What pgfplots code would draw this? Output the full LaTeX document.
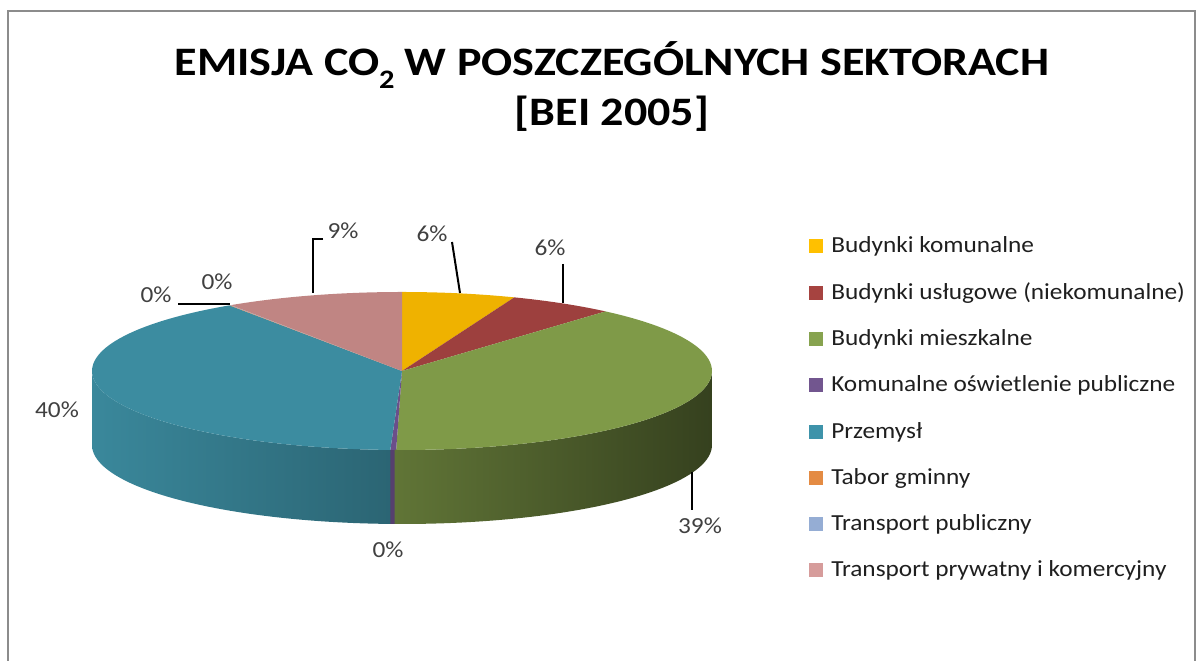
\documentclass[border=0pt]{standalone}
\usepackage{pgfplots}
\pgfplotsset{compat=1.18}
\usepackage{pgfplotstable}
\usepackage{fontspec}
\setmainfont{Carlito}
\newfontfamily\legfont[FakeStretch=1.1]{Carlito}
\newfontfamily\titlefont[FakeStretch=1.14]{Carlito}

\definecolor{cA}{HTML}{EFB200}
\definecolor{cB}{HTML}{9D403E}
\definecolor{cC}{HTML}{7F9A48}
\definecolor{cD}{HTML}{6B4F8A}
\definecolor{cE}{HTML}{3C8CA0}
\definecolor{cF}{HTML}{E0823A}
\definecolor{cG}{HTML}{93A9CF}
\definecolor{cH}{HTML}{C08583}
\definecolor{lA}{HTML}{FFC000}
\definecolor{lB}{HTML}{A64340}
\definecolor{lC}{HTML}{87A34F}
\definecolor{lD}{HTML}{72568F}
\definecolor{lE}{HTML}{3E93AA}
\definecolor{lF}{HTML}{E48B43}
\definecolor{lG}{HTML}{95ADD4}
\definecolor{lH}{HTML}{D69C9B}
\definecolor{bordergray}{HTML}{8C8C8C}
\definecolor{labgray}{HTML}{404040}

% shares of the sectors (per cent), clockwise from 12 o'clock
\pgfplotstableread{
name val
A 5.9
B 5.5
C 38.9
D 0.3
E 40.0
F 0.05
G 0.05
H 9.3
}\piedata

\xdef\cumsum{0}
\foreach \i/\L in {0/A,1/B,2/C,3/D,4/E,5/F,6/G,7/H}{%
  \pgfplotstablegetelem{\i}{val}\of\piedata
  \pgfmathsetmacro{\tmpsa}{90-3.6*\cumsum}%
  \pgfmathsetmacro{\tmpcum}{\cumsum+\pgfplotsretval}%
  \xdef\cumsum{\tmpcum}%
  \pgfmathsetmacro{\tmpea}{90-3.6*\cumsum}%
  \expandafter\xdef\csname sa\L\endcsname{\tmpsa}%
  \expandafter\xdef\csname ea\L\endcsname{\tmpea}%
}
\pgfmathsetmacro{\loC}{max(\eaC,-180)-0.3}
\pgfmathsetmacro{\hiC}{min(\saC,0)}
\pgfmathsetmacro{\loD}{max(\eaD,-180)}
\pgfmathsetmacro{\hiD}{min(\saD,0)}
\pgfmathsetmacro{\loE}{max(\eaE,-180)}
\pgfmathsetmacro{\hiE}{min(\saE,0)+0.3}

% side wall between angles #1 and #2 (top arc, then bottom arc back)
\newcommand{\sidewall}[4]{%
  \addplot[draw=none, #3, domain=0:2.2, samples=#4]
    ({402+310*cos(#1+(#2-#1)*min(1,min(x,2.2-x)))},
     {290+79*sin(#1+(#2-#1)*min(1,min(x,2.2-x)))-74*(x>1.1)}) -- cycle;
}
\newcommand{\topslice}[2]{%
  \addplot[fill=#2, draw=none, domain=\csname ea#1\endcsname:\csname sa#1\endcsname, samples=60]
    ({402+310*cos(x)},{290+79*sin(x)}) -- (axis cs:402,290) -- cycle;
}
\newcommand{\leg}[3]{%
  \addplot[only marks, mark=square*, mark size=4.9pt, color=#2] coordinates {(815.5,#1+7)};
  \node[anchor=base west, inner sep=0pt, text=black!88] at (axis cs:831,#1) {\legfont\fontsize{17.25pt}{20pt}\selectfont #3};
}
\newcommand{\lab}[3]{%
  \node[anchor=base, inner sep=0pt, text=labgray] at (axis cs:#1,#2) {\legfont\fontsize{17.25pt}{20pt}\selectfont #3};
}

\begin{document}
\begin{tikzpicture}
\begin{axis}[scale only axis, width=902.25pt, height=495.75pt,
  xmin=0, xmax=1203, ymin=0, ymax=661, hide axis, clip=false]
\addplot[draw=none] coordinates {(0,0) (1203,661)};
% chart border
\addplot[draw=bordergray, line width=1.6pt] coordinates {(8,0) (8,650) (1195,650) (1195,0)};

% side walls
\sidewall{\loE}{\hiE}{left color=cE!97!black, middle color=cE!92!black, right color=cE!72!black}{111}
\sidewall{\loD}{\hiD}{fill=cD!80!black}{23}
\sidewall{\loC}{\hiC}{left color=cC!76!black, middle color=cC!55!black, right color=cC!42!black}{111}

% top faces
\topslice{A}{cA}
\topslice{B}{cB}
\topslice{C}{cC}
\topslice{D}{cD}
\topslice{E}{cE}
\topslice{F}{cF}
\topslice{G}{cG}
\topslice{H}{cH}

% leader lines
\addplot[black, line width=1.5pt] coordinates {(452,419) (460,368)};
\addplot[black, line width=1.5pt] coordinates {(563,397) (563,358)};
\addplot[black, line width=1.5pt] coordinates {(323,422) (313,422) (313,368)};
\addplot[black, line width=1.5pt] coordinates {(178,357) (230,357)};
\addplot[black, line width=1.5pt] coordinates {(692,189) (692,151)};

% data labels
\lab{432}{419}{6\%}
\lab{550}{405}{6\%}
\lab{343}{422}{9\%}
\lab{217}{371}{0\%}
\lab{156}{358}{0\%}
\lab{700}{127}{39\%}
\lab{388}{103}{0\%}
\lab{57}{243}{40\%}

% title
\node[anchor=base, inner sep=0pt] at (axis cs:612,585) {\titlefont\bfseries\fontsize{30.3pt}{36pt}\selectfont EMISJA CO\raisebox{-0.3em}{\fontsize{20pt}{20pt}\selectfont 2} W POSZCZEGÓLNYCH SEKTORACH};
\node[anchor=base, inner sep=0pt] at (axis cs:612,535) {\titlefont\bfseries\fontsize{30.3pt}{36pt}\selectfont [BEI 2005]};

% legend
\leg{408}{lA}{Budynki komunalne}
\leg{361.5}{lB}{Budynki usługowe (niekomunalne)}
\leg{315}{lC}{Budynki mieszkalne}
\leg{269}{lD}{Komunalne oświetlenie publiczne}
\leg{222}{lE}{Przemysł}
\leg{176}{lF}{Tabor gminny}
\leg{130}{lG}{Transport publiczny}
\leg{84}{lH}{Transport prywatny i komercyjny}
\end{axis}
\end{tikzpicture}
\end{document}
